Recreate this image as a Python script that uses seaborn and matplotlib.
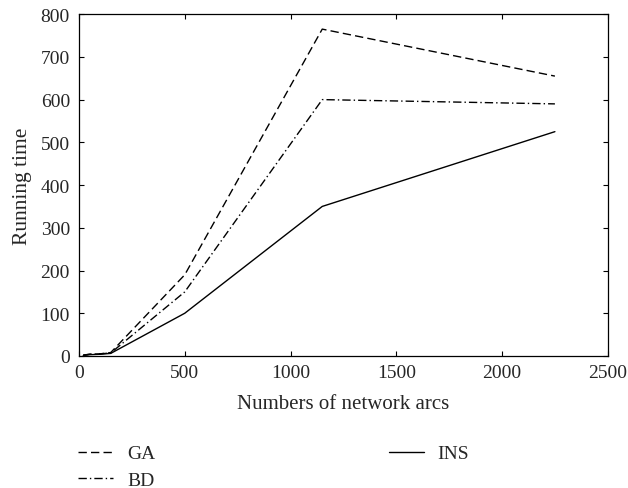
import matplotlib
matplotlib.use("Agg")
import matplotlib.pyplot as plt
import seaborn as sns
import pandas as pd

arcs = [20, 50, 100, 150, 500, 1150, 2250]
ga = [2, 4, 5, 8, 190, 765, 655]
bd = [2, 4, 5, 7, 150, 600, 590]
ins = [1, 3, 4, 6, 100, 350, 525]

df = pd.DataFrame({"arcs": arcs * 3,
                   "time": ga + bd + ins,
                   "method": ["GA"] * 7 + ["BD"] * 7 + ["INS"] * 7})

sns.set_style("ticks")
plt.rcParams['font.family'] = ['Liberation Serif', 'DejaVu Serif']

fig = plt.figure(figsize=(6.28, 4.89), dpi=100)
ax = fig.add_axes([0.1258, 0.270, 0.842, 0.699])

styles = {"GA": (0, (6, 3)), "BD": (0, (6, 2.2, 1, 2.2)), "INS": "-"}
for m in ["GA", "BD", "INS"]:
    sub = df[df["method"] == m]
    sns.lineplot(data=sub, x="arcs", y="time", ax=ax, color="black",
                 linewidth=1.0, linestyle=styles[m], label=m, legend=False)

ax.set_xlim(0, 2500)
ax.set_ylim(0, 800)
ax.set_xticks([0, 500, 1000, 1500, 2000, 2500])
ax.set_yticks(range(0, 801, 100))
ax.tick_params(direction="in", labelsize=14, length=3.5, width=0.8,
               top=True, right=True, color="black")
ax.tick_params(axis="y", pad=6.5)
ax.tick_params(axis="x", pad=5.5)
for s in ax.spines.values():
    s.set_linewidth(0.9)
    s.set_color("black")
ax.set_xlabel("Numbers of network arcs", fontsize=15, labelpad=10)
ax.set_ylabel("Running time", fontsize=15.5, labelpad=6)

handles, labels = ax.get_legend_handles_labels()
fig.legend(handles, labels, loc="upper left", bbox_to_anchor=(0.0963, 0.124),
           ncol=2, frameon=False, fontsize=14, handlelength=1.8,
           handletextpad=0.72, columnspacing=12, labelspacing=0.45)

fig.savefig("out.png", dpi=100)
